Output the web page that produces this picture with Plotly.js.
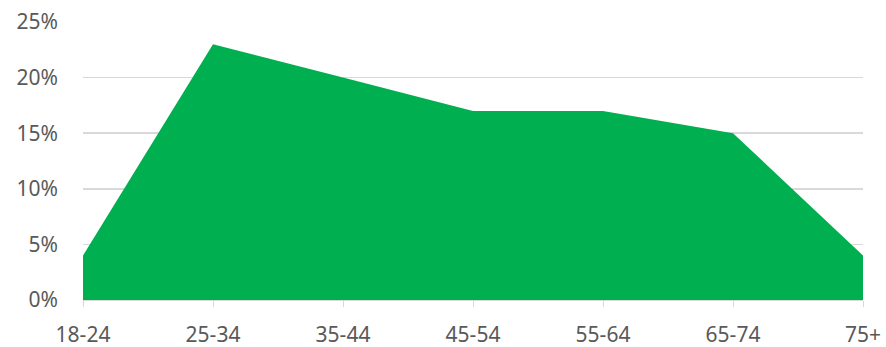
<!DOCTYPE html>
<html><head><meta charset="utf-8">
<script src="https://cdn.plot.ly/plotly-3.0.1.min.js"></script>
<style>html,body{margin:0;padding:0;background:#fff;}#chart{width:886px;height:347px;}</style>
</head><body><div id="chart"></div>
<script>
const categories = ["18-24","25-34","35-44","45-54","55-64","65-74","75+"];
const shares = [0.04, 0.23, 0.20, 0.17, 0.17, 0.15, 0.04];
const yTickValues = [0, 0.05, 0.10, 0.15, 0.20, 0.25];
const yTickLabels = ["0%","5%","10%","15%","20%","25%"];

Plotly.newPlot("chart", [{
  x: categories, y: shares, type: "scatter", mode: "lines",
  fill: "tozeroy", fillcolor: "#00B050", line: {width: 0, color: "#00B050"},
  hoverinfo: "skip"
}], {
  width: 886, height: 347,
  margin: {l: 83, r: 23, t: 22, b: 47},
  paper_bgcolor: "#fff", plot_bgcolor: "#fff",
  showlegend: false,
  font: {family: "Noto Sans, sans-serif", size: 21, color: "#595959"},
  xaxis: {type: "category", range: [0, 6], showgrid: false, zeroline: false,
    showline: true, linecolor: "#d9d9d9", linewidth: 1,
    ticks: "outside", ticklen: 6, tickcolor: "#d9d9d9", tickwidth: 1,
    ticklabelstandoff: 10, fixedrange: true},
  yaxis: {range: [0, 0.25], tickvals: yTickValues, ticktext: yTickLabels,
    showgrid: true, gridcolor: "#d9d9d9", gridwidth: 1.5, zeroline: false,
    showline: false, ticks: "", ticklabelstandoff: 24, fixedrange: true}
}, {staticPlot: true});
</script></body></html>
